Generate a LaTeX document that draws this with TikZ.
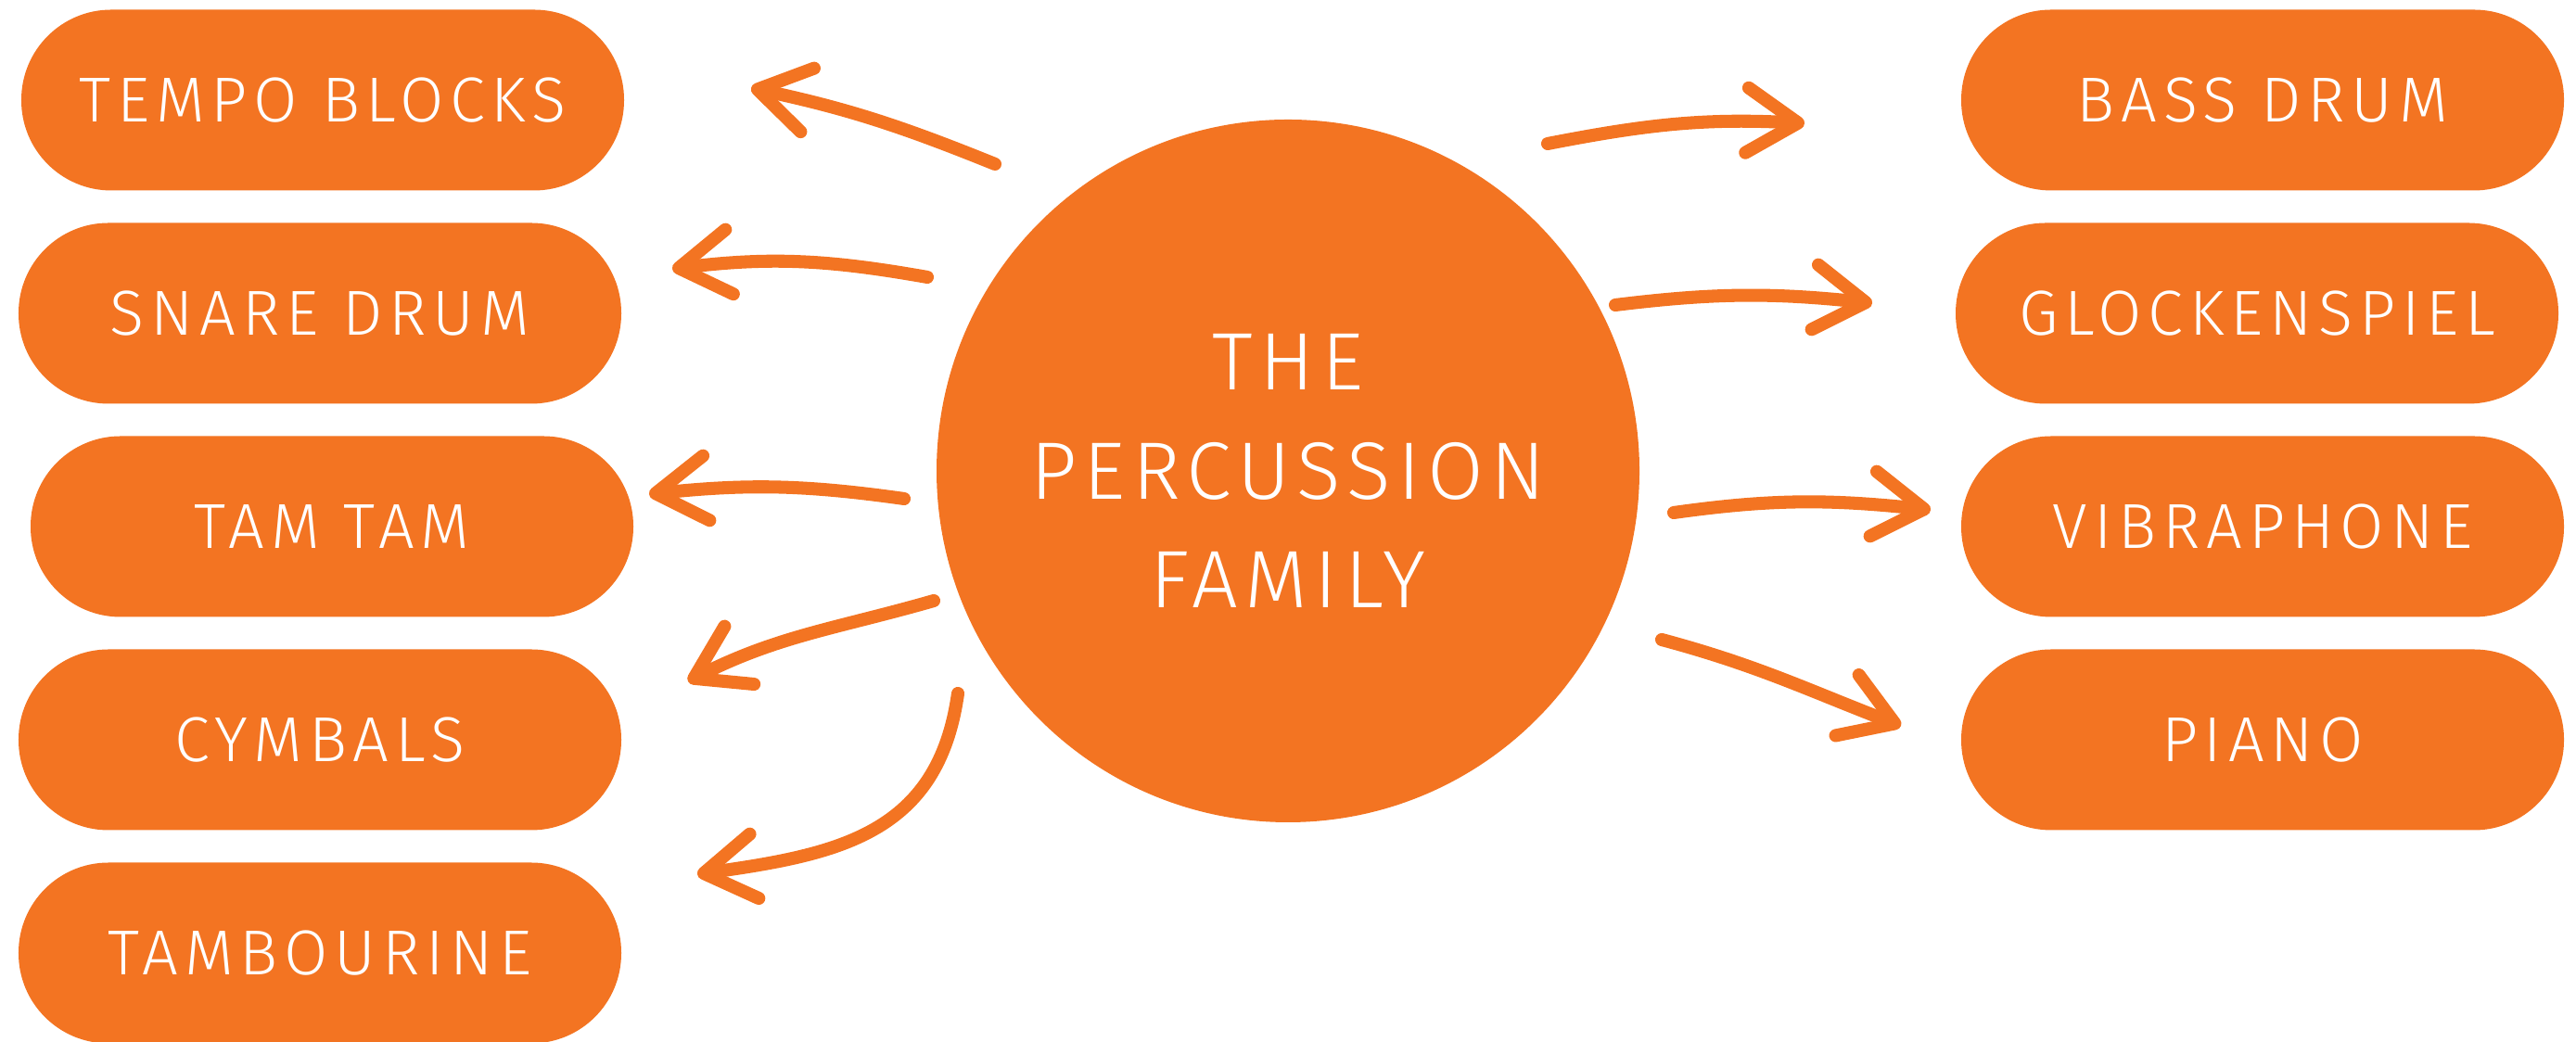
\documentclass[tikz,border=0pt]{standalone}
\usepackage{fontspec}
\usepackage{tikz}
\usetikzlibrary{arrows.meta}
\IfFontExistsTF{Fira Sans Light}{%
  \newfontfamily\pillfont[LetterSpace=10]{Fira Sans Light}%
  \newfontfamily\hubfont[LetterSpace=8.5]{Fira Sans Light}%
  \newcommand\pillsize{\fontsize{19.5}{22}\selectfont}%
  \newcommand\hubsize{\fontsize{25}{33.5}\selectfont}%
}{%
  \newfontfamily\pillfont[FakeStretch=0.92,LetterSpace=5]{Liberation Sans}%
  \newfontfamily\hubfont[FakeStretch=0.92,LetterSpace=5]{Liberation Sans}%
  \newcommand\pillsize{\fontsize{19}{22}\selectfont}%
  \newcommand\hubsize{\fontsize{23.8}{33.5}\selectfont}%
}
\definecolor{perc}{HTML}{F37422}

\begin{document}
\begin{tikzpicture}
    \tikzset{pill/.style={rectangle,rounded corners=0.97cm,fill=perc,text=white,
        minimum width=6.5cm,minimum height=1.95cm,font=\pillfont\pillsize}}
    \tikzset{hub/.style={circle,fill=perc,text=white,minimum size=7.58cm,
        inner sep=0pt,align=center,font=\hubfont\hubsize}}
    \tikzset{arr/.style={color=perc,line width=4pt,line cap=round,line join=round,
        -{Straight Barb[length=0.55cm,width=0.7cm,round]}}}
    \useasboundingbox (0,0) rectangle (27.78,11.24);
    \node[hub] (fam) at (13.89,6.16) {THE\\PERCUSSION\\FAMILY};
    % left column
    \node[pill] (tempo) at (3.48,10.16) {TEMPO BLOCKS};
    \node[pill] (snare) at (3.45,7.86) {SNARE DRUM};
    \node[pill] (tamtam) at (3.58,5.56) {TAM TAM};
    \node[pill] (cymbals) at (3.45,3.26) {CYMBALS};
    \node[pill] (tambo) at (3.45,0.96) {TAMBOURINE};
    % right column
    \node[pill] (bass) at (24.40,10.16) {BASS DRUM};
    \node[pill] (glock) at (24.34,7.86) {GLOCKENSPIEL};
    \node[pill] (vibra) at (24.40,5.56) {VIBRAPHONE};
    \node[pill] (piano) at (24.40,3.26) {PIANO};
    % loose arrow ends
    \coordinate (tempo-s) at (10.73,9.47);   \coordinate (tempo-e) at (8.10,10.29);
    \coordinate (snare-s) at (10.00,8.25);   \coordinate (snare-e) at (7.25,8.34);
    \coordinate (tamtam-s) at (9.75,5.86);   \coordinate (tamtam-e) at (7.00,5.91);
    \coordinate (cymbals-s) at (10.07,4.76); \coordinate (cymbals-e) at (7.42,3.89);
    \coordinate (tambo-s) at (10.33,3.76);   \coordinate (tambo-e) at (7.52,1.81);
    \coordinate (bass-s) at (16.69,9.69);    \coordinate (bass-e) at (19.46,9.91);
    \coordinate (glock-s) at (17.42,7.95);   \coordinate (glock-e) at (20.19,7.97);
    \coordinate (vibra-s) at (18.05,5.71);   \coordinate (vibra-e) at (20.82,5.74);
    \coordinate (piano-s) at (17.92,4.34);   \coordinate (piano-e) at (20.50,3.41);
    \path[arr]
    (tempo-s) edge [out=158,in=-12] (tempo-e)
    (snare-s) edge [out=170,in=7] (snare-e)
    (tamtam-s) edge [out=172,in=6] (tamtam-e)
    (cymbals-s) edge [out=196,in=27] (cymbals-e)
    (tambo-s) edge [out=262,in=8,looseness=1.15] (tambo-e)
    (bass-s) edge [out=11,in=177] (bass-e)
    (glock-s) edge [out=7,in=174] (glock-e)
    (vibra-s) edge [out=8,in=174] (vibra-e)
    (piano-s) edge [out=-15,in=159] (piano-e)
    ;
\end{tikzpicture}
\end{document}
